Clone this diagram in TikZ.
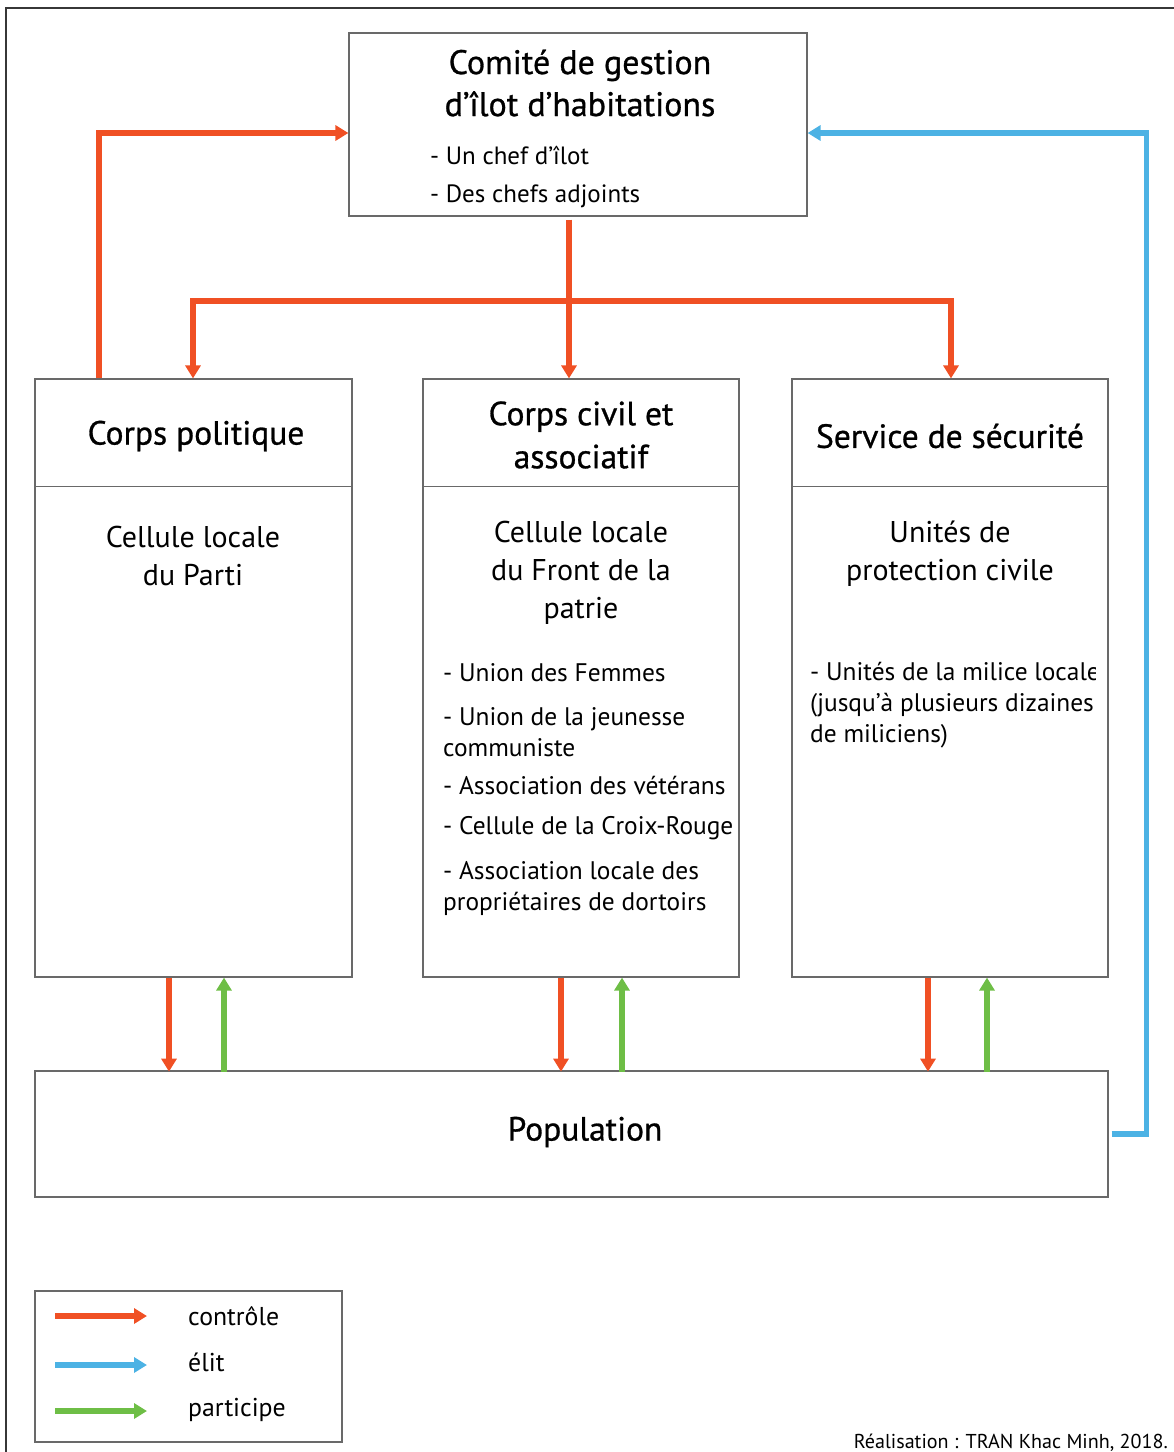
\documentclass[tikz,border=0pt]{standalone}
\usepackage{fontspec}
\setmainfont{PT Sans}
\newfontfamily\headfam[FakeBold=0.8]{PT Sans}
\usetikzlibrary{arrows.meta}
\definecolor{cred}{RGB}{240,80,36}
\definecolor{cblue}{RGB}{76,178,228}
\definecolor{cgreen}{RGB}{110,190,70}
\definecolor{cbord}{RGB}{105,105,105}
\definecolor{cframe}{RGB}{55,55,55}
\newcommand\ftitle{\headfam\fontsize{34}{42}\selectfont}
\newcommand\fhead{\headfam\fontsize{33.5}{43}\selectfont}
\newcommand\fcell{\fontsize{30}{38}\selectfont}
\newcommand\flist{\fontsize{25.4}{31}\selectfont}
\newcommand\fsmall{\fontsize{25}{30}\selectfont}
\newcommand\fleg{\fontsize{25.8}{30}\selectfont}
\newcommand\fcred{\fontsize{20.1}{22}\selectfont}
\begin{document}
\begin{tikzpicture}[x=1pt,y=-1pt,
  box/.style={draw=cbord, line width=1.2pt, inner sep=0pt},
  txt/.style={inner sep=0pt, text=black},
  conn/.style={line width=5.5pt},
  tip/.style={-{Triangle[length=13pt,width=15pt]}},
  revtip/.style={{Triangle[length=13pt,width=15pt]}-},
  ctrl/.style={conn, draw=cred},
  elit/.style={conn, draw=cblue},
  part/.style={conn, draw=cgreen}]
\useasboundingbox (0,0) rectangle (1174,1452);
% outer frame (left and top)
\draw[cframe, line width=2.5pt] (6,1452) -- (6,8) -- (1174,8);
% boxes
\node[box, minimum width=458pt, minimum height=183pt] (top) at (578,124.5) {};
\node[box, minimum width=317pt, minimum height=598pt] (cpol) at (193.5,678) {};
\node[box, minimum width=316pt, minimum height=598pt] (cciv) at (581,678) {};
\node[box, minimum width=316pt, minimum height=598pt] (csec) at (950,678) {};
\node[box, minimum width=1073pt, minimum height=126pt] (pop) at (571.5,1134) {};
\node[box, minimum width=307pt, minimum height=151pt] (leg) at (188.5,1366.5) {};
\draw[draw=cbord, line width=1.2pt] ([yshift=-108pt]cpol.north west) -- ([yshift=-108pt]cpol.north east);
\draw[draw=cbord, line width=1.2pt] ([yshift=-108pt]cciv.north west) -- ([yshift=-108pt]cciv.north east);
\draw[draw=cbord, line width=1.2pt] ([yshift=-108pt]csec.north west) -- ([yshift=-108pt]csec.north east);
% top box texts
\node[txt, font=\ftitle, align=center] (ttl) at (580,83) {Comité de gestion\\d’îlot d’habitations};
\node[txt, font=\fsmall, anchor=west] (t1) at (430,155) {- Un chef d’îlot};
\node[txt, font=\fsmall, anchor=west] (t2) at (430,196) {- Des chefs adjoints};
% headers
\node[txt, font=\fhead] (h1) at (196,436) {Corps politique};
\node[txt, font=\fhead, align=center] (h2) at (581,435) {Corps civil et\\associatif};
\node[txt, font=\fhead] (h3) at (950,436) {Service de sécurité};
% column contents
\node[txt, font=\fcell, align=center] (c1) at (193,556) {Cellule locale\\du Parti};
\node[txt, font=\fcell, align=center] (c2) at (581,573) {Cellule locale\\du Front de la\\patrie};
\node[txt, font=\fcell, align=center] (c3) at (950,554) {Unités de\\protection civile};
\node[txt, font=\flist, anchor=west] (l1) at (443,673) {- Union des Femmes};
\node[txt, font=\flist, anchor=west, align=left] (l2) at (443,732) {- Union de la jeunesse\\communiste};
\node[txt, font=\flist, anchor=west] (l3) at (443,785) {- Association des vétérans};
\node[txt, font=\flist, anchor=west] (l4) at (443,828) {- Cellule de la Croix-Rouge};
\node[txt, font=\flist, anchor=west, align=left] (l5) at (443,888) {- Association locale des\\propriétaires de dortoirs};
\begin{scope}
\clip (793,620) rectangle (1095,780);
\node[txt, font=\flist, anchor=west, align=left] (r1) at (810,705) {- Unités de la milice locale\\(jusqu’à plusieurs dizaines\\de miliciens)};
\end{scope}
\node[txt, font=\fhead] (ptxt) at (585,1132) {Population};
% connectors
\draw[ctrl, tip] ([xshift=-94.5pt]cpol.north) |- ([yshift=-8.5pt]top.west);
\draw[elit, tip] ([xshift=3pt]pop.east) -- ++(35,0) |- ([yshift=-8.5pt]top.east);
\coordinate (junc) at (569,301);
\draw[ctrl, tip] ([xshift=-9pt,yshift=-3pt]top.south) -- ([xshift=-12pt]cciv.north);
\draw[ctrl, tip] (junc) -| ([xshift=-0.5pt]cpol.north);
\draw[ctrl, tip] (junc) -| ([xshift=1pt]csec.north);
\draw[ctrl, tip] ([xshift=-24.5pt]cpol.south) -- ++(0,94);
\draw[part, revtip] ([xshift=30.5pt]cpol.south) -- ++(0,94);
\draw[ctrl, tip] ([xshift=-20pt]cciv.south) -- ++(0,94);
\draw[part, revtip] ([xshift=41pt]cciv.south) -- ++(0,94);
\draw[ctrl, tip] ([xshift=-22pt]csec.south) -- ++(0,94);
\draw[part, revtip] ([xshift=37pt]csec.south) -- ++(0,94);
% legend
\coordinate (la1) at (55,1316); \coordinate (lb1) at (147,1316);
\coordinate (la2) at (55,1365); \coordinate (lb2) at (147,1365);
\coordinate (la3) at (55,1411); \coordinate (lb3) at (147,1411);
\draw[ctrl, tip] (la1) -- (lb1);
\draw[elit, tip] (la2) -- (lb2);
\draw[part, tip] (la3) -- (lb3);
\node[txt, font=\fleg, anchor=west] (g1) at (188,1316) {contrôle};
\node[txt, font=\fleg, anchor=west] (g2) at (188,1362) {élit};
\node[txt, font=\fleg, anchor=west] (g3) at (188,1410) {participe};
\node[txt, font=\fcred, anchor=east] (cred) at (1168,1443) {Réalisation : TRAN Khac Minh, 2018.};
\end{tikzpicture}
\end{document}
